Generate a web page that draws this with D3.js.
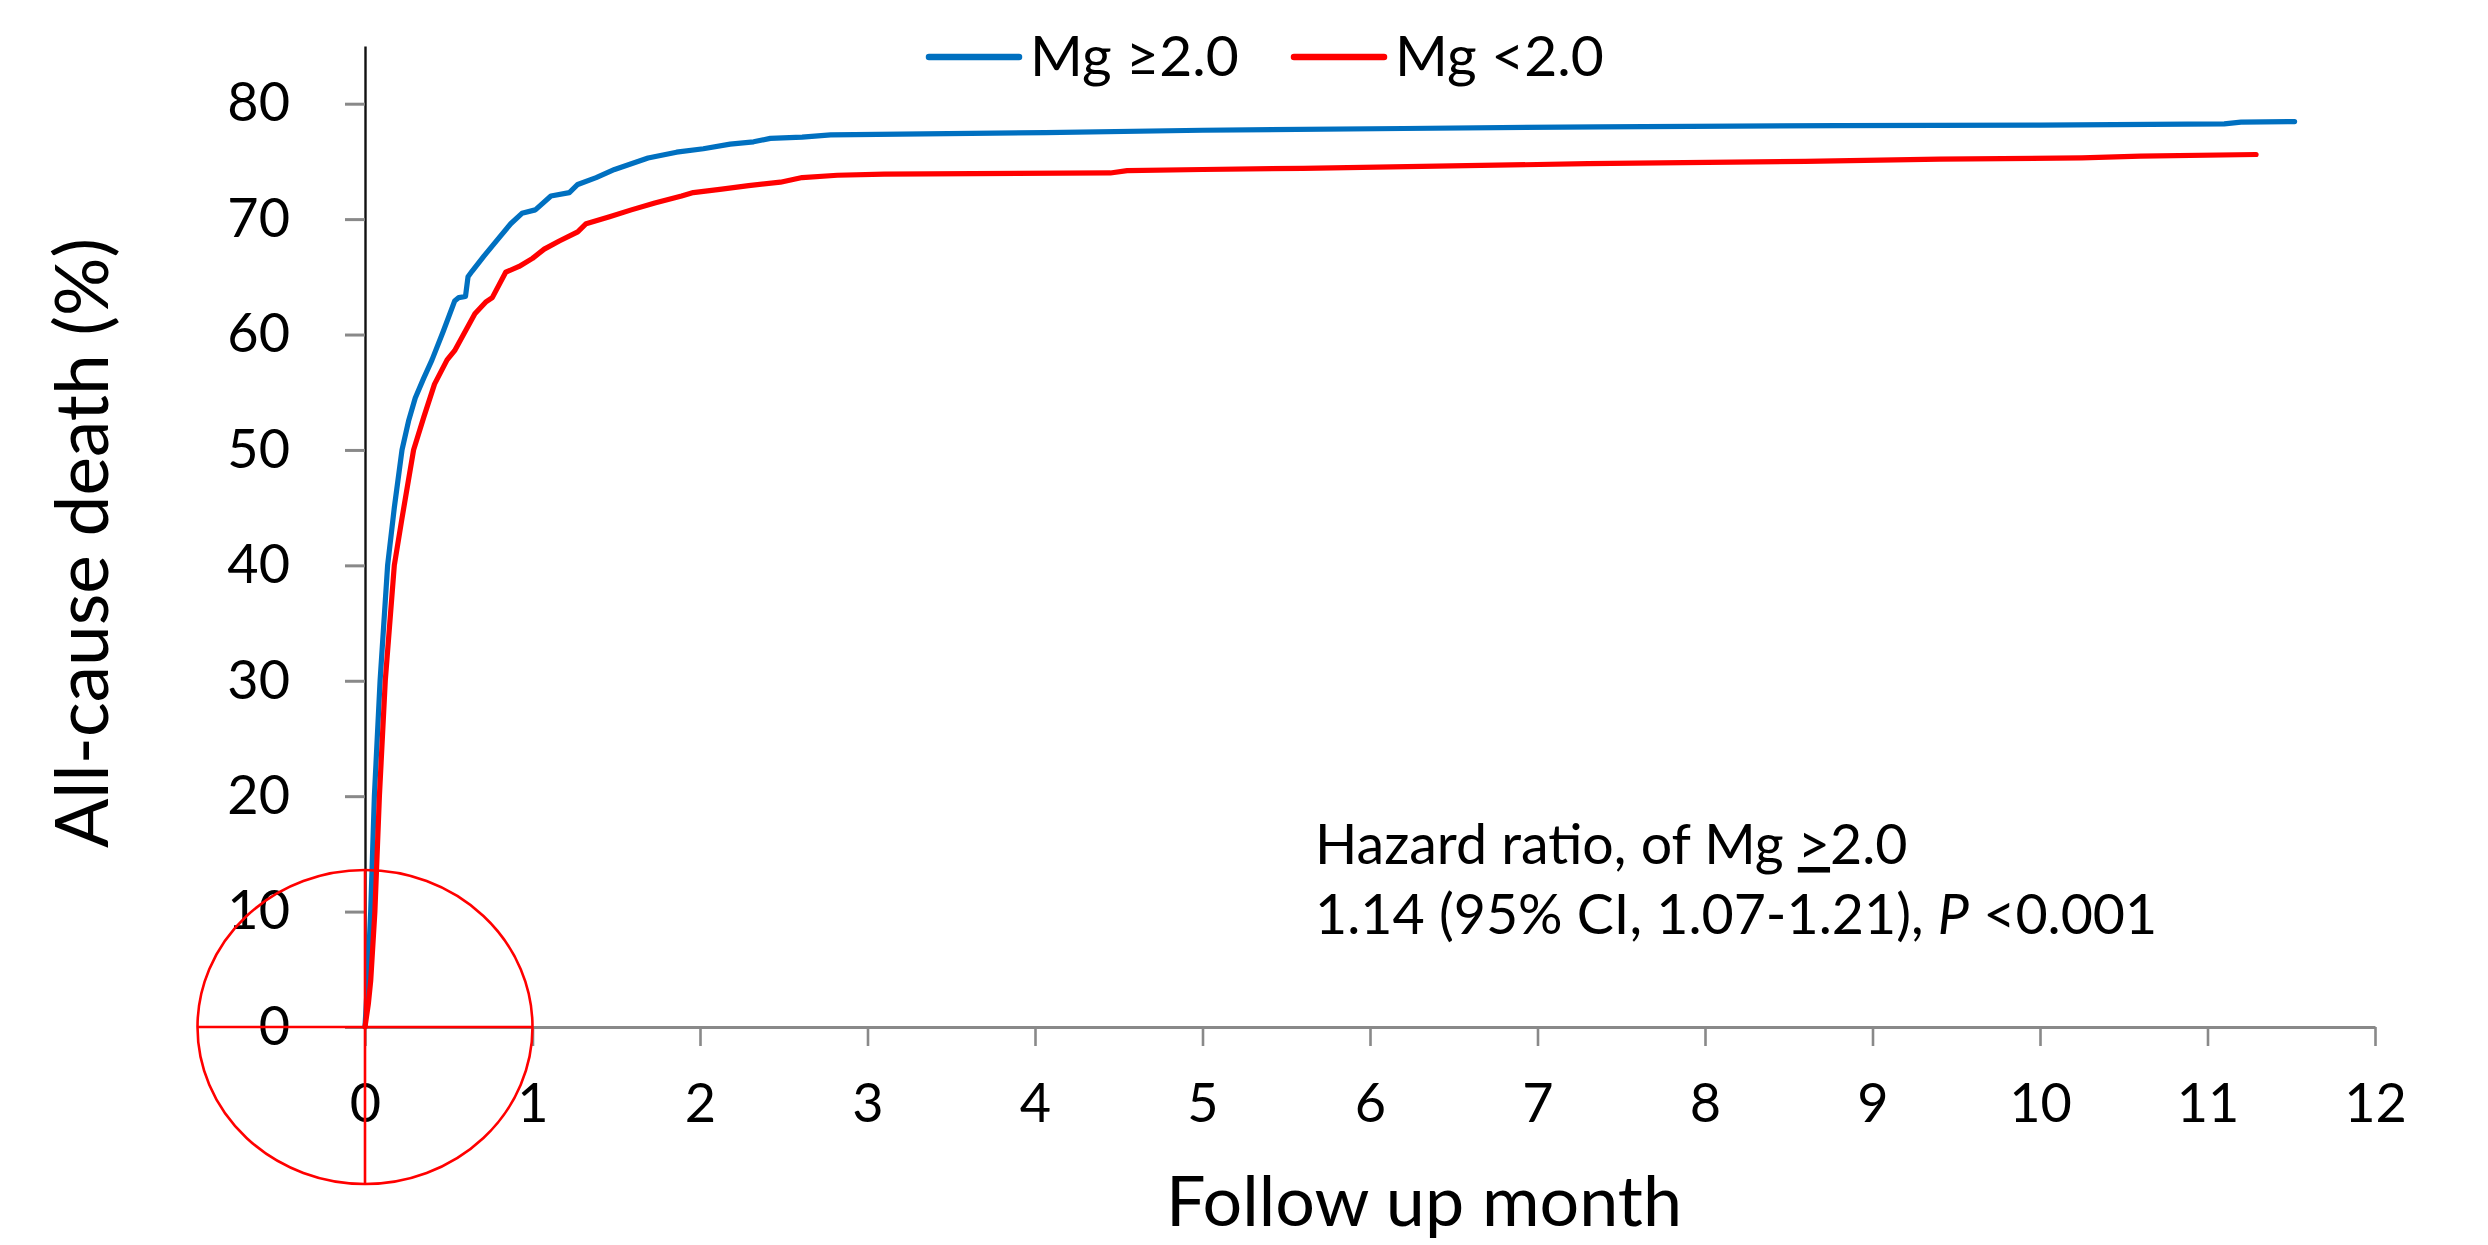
<!DOCTYPE html>
<html>
<head>
<meta charset="utf-8">
<script src="https://cdn.jsdelivr.net/npm/d3@7"></script>
<style>
    html, body { margin: 0; padding: 0; background: #fff; }
    svg { display: block; font-family: Lato, "Open Sans", sans-serif; }
</style>
</head>
<body>
<div id="chart"></div>
<script>
// =======================
// Data
// =======================
const seriesNames = ["Mg \u22652.0", "Mg <2.0"];
const seriesColors = ["#0070C0", "#FF0000"];

// Mg >= 2.0
const highMonth = [0, 0.015, 0.034, 0.056, 0.09, 0.135, 0.175, 0.221, 0.26, 0.30, 0.35, 0.40, 0.468, 0.535, 0.56, 0.60, 0.615, 0.64, 0.71, 0.79, 0.87, 0.937, 1.017, 1.11, 1.22, 1.27, 1.38, 1.49, 1.59, 1.69, 1.86, 2.02, 2.18, 2.32, 2.42, 2.61, 2.78, 4.06, 5.0, 6.2, 7.37, 8.8, 10.0, 11.1, 11.2, 11.52];
const highPct   = [0, 4, 10, 20, 30, 40, 45, 50, 52.5, 54.5, 56.2, 57.8, 60.3, 62.9, 63.2, 63.3, 65.0, 65.5, 66.8, 68.2, 69.6, 70.5, 70.8, 72.0, 72.3, 73.0, 73.6, 74.3, 74.8, 75.3, 75.8, 76.1, 76.5, 76.7, 77.0, 77.1, 77.3, 77.5, 77.7, 77.85, 78.0, 78.1, 78.15, 78.25, 78.4, 78.45];

// Mg < 2.0
const lowMonth = [0, 0.02, 0.034, 0.059, 0.086, 0.121, 0.175, 0.22, 0.29, 0.35, 0.415, 0.49, 0.535, 0.656, 0.72, 0.76, 0.84, 0.92, 1.00, 1.07, 1.16, 1.27, 1.32, 1.46, 1.59, 1.73, 1.89, 1.96, 2.13, 2.29, 2.48, 2.61, 2.82, 3.1, 4.45, 4.55, 5.0, 5.6, 7.3, 8.6, 9.4, 10.25, 10.6, 11.29];
const lowPct   = [0, 2, 4, 10, 20, 30, 40, 44, 50, 52.8, 55.7, 57.8, 58.6, 61.8, 62.8, 63.2, 65.4, 65.9, 66.6, 67.4, 68.1, 68.9, 69.6, 70.2, 70.8, 71.4, 72.0, 72.3, 72.6, 72.9, 73.2, 73.6, 73.8, 73.9, 74.0, 74.2, 74.3, 74.4, 74.8, 75.0, 75.2, 75.3, 75.45, 75.6];

const xTicks = [0, 1, 2, 3, 4, 5, 6, 7, 8, 9, 10, 11, 12];
const yTicks = [0, 10, 20, 30, 40, 50, 60, 70, 80];

const xTitle = "Follow up month";
const yTitle = "All-cause death (%)";
const noteLine1 = ["Hazard ratio, of Mg ", ">", "2.0"];
const noteLine2 = ["1.14 (95% CI, 1.07-1.21), ", "P", " <0.001"];

// =======================
// SVG
// =======================
const width = 2488;
const height = 1245;

const svg = d3.select("#chart")
    .append("svg")
    .attr("width", width)
    .attr("height", height);

svg.append("rect").attr("width", width).attr("height", height).attr("fill", "#fff");

const x = d3.scaleLinear().domain([0, 12]).range([365, 2375]);
const y = d3.scaleLinear().domain([0, 85]).range([1027, 46]);

// =======================
// Axes
// =======================
const xAxis = svg.append("g")
    .attr("transform", `translate(0,${y(0)})`)
    .call(d3.axisBottom(x).tickValues(xTicks).tickSize(19).tickPadding(38).tickSizeOuter(0));

xAxis.select(".domain").attr("stroke", "#898989").attr("stroke-width", 3.2);
xAxis.selectAll(".tick line").attr("stroke", "#898989").attr("stroke-width", 2.6);
xAxis.selectAll(".tick text")
    .attr("font-size", 54)
    .attr("font-family", "Lato")
    .attr("fill", "#000");

const yAxis = svg.append("g")
    .attr("transform", `translate(${x(0)},0)`)
    .call(d3.axisLeft(y).tickValues(yTicks).tickSize(20).tickPadding(55).tickSizeOuter(0));

yAxis.select(".domain").attr("stroke", "#111").attr("stroke-width", 2.4);
yAxis.selectAll(".tick line").attr("stroke", "#898989").attr("stroke-width", 3);
yAxis.selectAll(".tick text")
    .attr("font-size", 54)
    .attr("font-family", "Lato")
    .attr("fill", "#000");

// Axis titles
svg.append("text")
    .attr("x", 1424)
    .attr("y", 1226)
    .attr("text-anchor", "middle")
    .attr("font-size", 70)
    .attr("fill", "#000")
    .text(xTitle);

svg.append("text")
    .attr("transform", `translate(108,${543}) rotate(-90)`)
    .attr("text-anchor", "middle")
    .attr("font-size", 73)
    .attr("fill", "#000")
    .text(yTitle);

// =======================
// Curves
// =======================
const line = d3.line()
    .x(d => x(d[0]))
    .y(d => y(d[1]));

const series = [
    d3.zip(highMonth, highPct),
    d3.zip(lowMonth, lowPct)
];

svg.append("g")
    .selectAll("path")
    .data(series)
    .enter()
    .append("path")
    .attr("d", line)
    .attr("fill", "none")
    .attr("stroke", (d, i) => seriesColors[i])
    .attr("stroke-width", 5.2)
    .attr("stroke-linejoin", "round")
    .attr("stroke-linecap", "round");

// =======================
// Legend
// =======================
const legendX = [929, 1294];
const legend = svg.append("g")
    .selectAll("g")
    .data(seriesNames)
    .enter()
    .append("g")
    .attr("transform", (d, i) => `translate(${legendX[i]},57)`);

legend.append("line")
    .attr("x1", 0).attr("x2", 90)
    .attr("stroke", (d, i) => seriesColors[i])
    .attr("stroke-width", 6.5)
    .attr("stroke-linecap", "round");

legend.append("text")
    .attr("x", 101)
    .attr("y", 19)
    .attr("font-size", 57)
    .attr("fill", "#000")
    .text(d => d);

// =======================
// Hazard ratio note
// =======================
const note = svg.append("text")
    .attr("x", 1315)
    .attr("y", 864)
    .attr("font-size", 55.5)
    .attr("fill", "#000");

note.append("tspan").text(noteLine1[0]);
note.append("tspan").style("text-decoration", "underline").text(noteLine1[1]);
note.append("tspan").text(noteLine1[2]);

const note2 = svg.append("text")
    .attr("x", 1315)
    .attr("y", 934)
    .attr("font-size", 55.5)
    .attr("fill", "#000");

note2.append("tspan").text(noteLine2[0]);
note2.append("tspan").attr("font-style", "italic").text(noteLine2[1]);
note2.append("tspan").text(noteLine2[2]);

// =======================
// Red circle mark at origin
// =======================
const rx = x(1) - x(0);
const ry = y(0) - y(13.6);
const mark = svg.append("g")
    .attr("fill", "none")
    .attr("stroke", "#FF0000")
    .attr("stroke-width", 2.6);

mark.append("ellipse")
    .attr("cx", x(0)).attr("cy", y(0))
    .attr("rx", rx).attr("ry", ry);

mark.append("line")
    .attr("x1", x(0) - rx).attr("x2", x(0) + rx)
    .attr("y1", y(0)).attr("y2", y(0));

mark.append("line")
    .attr("x1", x(0)).attr("x2", x(0))
    .attr("y1", y(0) - ry).attr("y2", y(0) + ry);
</script>
</body>
</html>
